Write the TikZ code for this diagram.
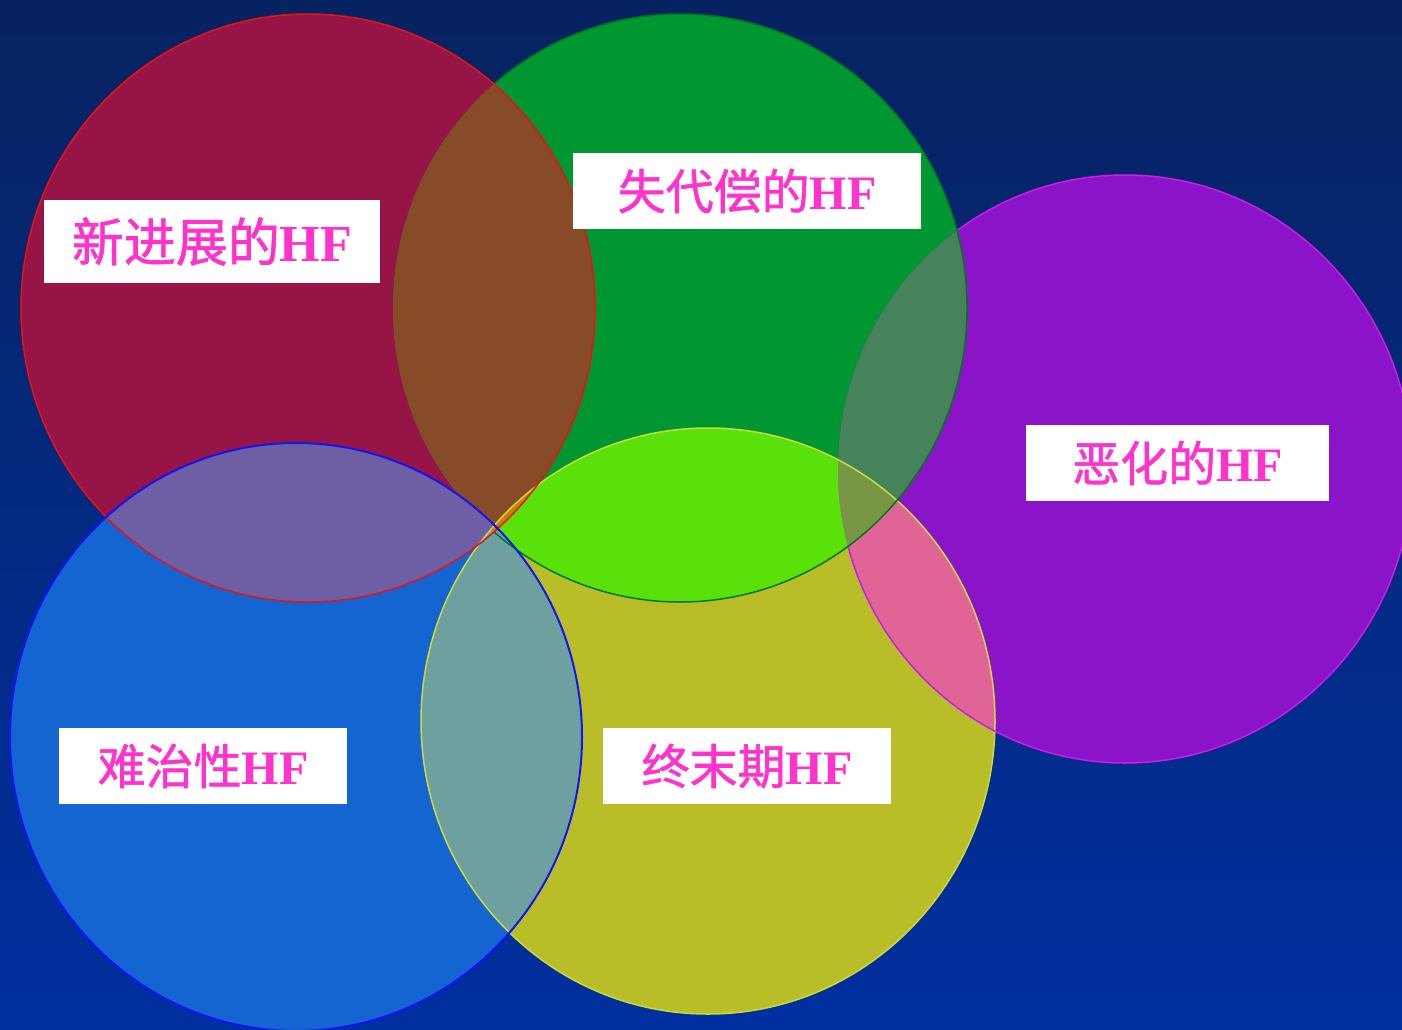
\documentclass[tikz,border=0pt]{standalone}
\usepackage{fontspec}
\newfontfamily\cjk{Noto Sans CJK SC}[FakeBold=1.2]
\newfontfamily\tms{Liberation Serif}
\definecolor{bgtop}{RGB}{6,34,96}
\definecolor{bgbot}{RGB}{0,48,160}
\definecolor{cred}{RGB}{150,20,70}
\definecolor{cgreen}{RGB}{0,150,50}
\definecolor{cpurple}{RGB}{140,20,200}
\definecolor{cblue}{RGB}{20,100,210}
\definecolor{cyellow}{RGB}{185,190,40}
\definecolor{xrg}{RGB}{135,75,40}
\definecolor{xrb}{RGB}{110,95,165}
\definecolor{xgy}{RGB}{90,225,10}
\definecolor{xgp}{RGB}{70,130,90}
\definecolor{xyp}{RGB}{225,100,150}
\definecolor{xby}{RGB}{110,160,160}
\definecolor{xgyp}{RGB}{120,150,70}
\definecolor{xrgy}{RGB}{200,130,0}
\definecolor{lred}{RGB}{230,20,20}
\definecolor{lgreen}{RGB}{0,120,30}
\definecolor{lpurple}{RGB}{200,30,230}
\definecolor{lblue}{RGB}{20,20,240}
\definecolor{lyellow}{RGB}{200,220,60}
\definecolor{pinktxt}{RGB}{255,51,204}
\newcommand\cR{(308,308) ellipse [x radius=287pt, y radius=294pt]}
\newcommand\cG{(680,308) ellipse [x radius=287pt, y radius=294pt]}
\newcommand\cP{(1125,469) ellipse [x radius=287pt, y radius=294pt]}
\newcommand\cB{(296,737) ellipse [x radius=286pt, y radius=294pt]}
\newcommand\cY{(708,721) ellipse [x radius=287pt, y radius=293pt]}
\tikzset{
  lbl/.style={fill=white, inner sep=0pt, text=pinktxt, font=\fontsize{48}{52}\selectfont},
  edge/.style={line width=1.5pt},
}
\begin{document}
\begin{tikzpicture}[x=1pt,y=-1pt]
\useasboundingbox (0,0) rectangle (1402,1030);
\shade[top color=bgtop, bottom color=bgbot] (0,0) rectangle (1402,1030);
% base fills
\fill[cred] \cR;
\fill[cgreen] \cG;
\fill[cpurple] \cP;
\fill[cblue] \cB;
\fill[cyellow] \cY;
% pairwise overlaps
\begin{scope}\clip \cR; \fill[xrg] \cG; \end{scope}
\begin{scope}\clip \cR; \fill[xrb] \cB; \end{scope}
\begin{scope}\clip \cG; \fill[xgy] \cY; \end{scope}
\begin{scope}\clip \cG; \fill[xgp] \cP; \end{scope}
\begin{scope}\clip \cY; \fill[xyp] \cP; \end{scope}
\begin{scope}\clip \cB; \fill[xby] \cY; \end{scope}
% triple overlaps
\begin{scope}\clip \cG; \clip \cY; \fill[xgyp] \cP; \end{scope}
\begin{scope}\clip \cR; \clip \cG; \clip \cY; \fill[xrgy] (0,0) rectangle (1402,1030); \end{scope}
% outlines
\draw[lyellow, edge] \cY;
\begin{scope}[even odd rule]
  \clip (0,0) rectangle (1402,1030) \cG;
  \draw[lpurple, edge] \cP;
\end{scope}
\begin{scope}[even odd rule]
  \clip (0,0) rectangle (1402,1030) \cR;
  \draw[lgreen, edge] \cG;
\end{scope}
\draw[lred, edge] \cR;
\draw[lblue, line width=2pt] \cB;
% labels
\node[lbl, minimum width=336pt, minimum height=83pt, font=\fontsize{52}{56}\selectfont] (l1) at (212,241.5) {{\cjk 新进展的}{\tms\bfseries HF}};
\node[lbl, minimum width=348pt, minimum height=76pt] (l2) at (747,191) {{\cjk 失代偿的}{\tms\bfseries HF}};
\node[lbl, minimum width=303pt, minimum height=76pt] (l3) at (1177.5,463) {{\cjk 恶化的}{\tms\bfseries HF}};
\node[lbl, minimum width=288pt, minimum height=76pt] (l4) at (203,766) {{\cjk 难治性}{\tms\bfseries HF}};
\node[lbl, minimum width=288pt, minimum height=76pt] (l5) at (747,766) {{\cjk 终末期}{\tms\bfseries HF}};
\end{tikzpicture}
\end{document}
